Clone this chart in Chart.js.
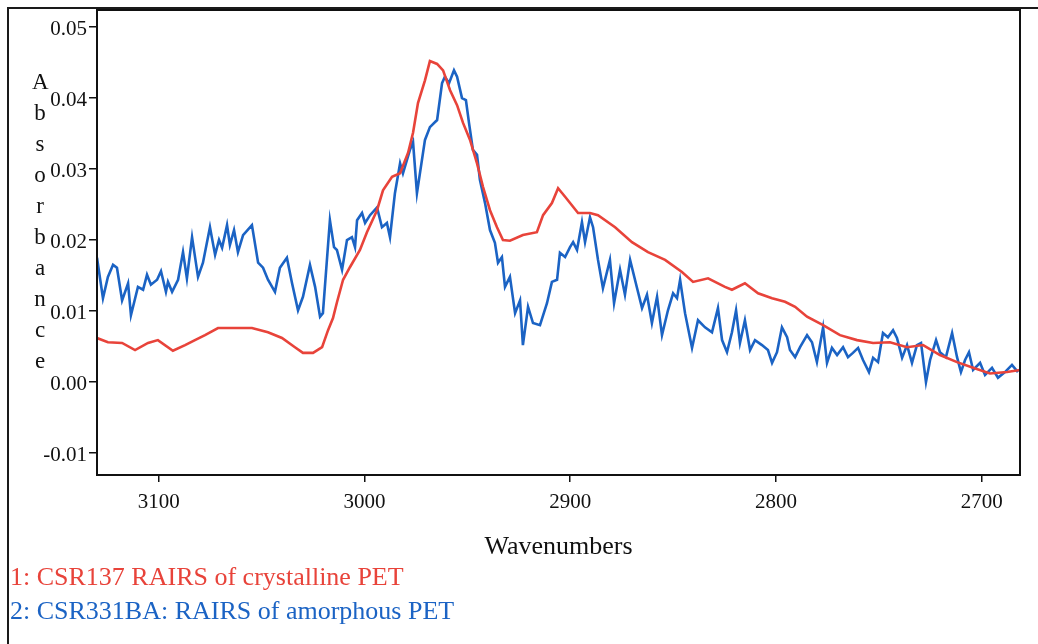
<!DOCTYPE html>
<html>
<head>
<meta charset="utf-8">
<script src="https://cdn.jsdelivr.net/npm/chart.js@4.4.1/dist/chart.umd.min.js"></script>
<style>
html,body{margin:0;padding:0;background:#fff;}
#wrap{position:relative;width:1038px;height:644px;overflow:hidden;background:#fff;}
#frame{position:absolute;left:7px;top:7px;width:1100px;height:700px;border-left:2px solid #1a1a1a;border-top:2px solid #1a1a1a;}
#c{position:absolute;left:0;top:0;}
#ytitle{position:absolute;left:32px;top:66px;width:16px;font-family:"Liberation Serif",serif;font-size:23px;line-height:31px;text-align:center;word-break:break-all;color:#111;}
#legend{position:absolute;left:10px;top:560px;font-family:"Liberation Serif",serif;font-size:26px;line-height:34px;white-space:nowrap;}
</style>
</head>
<body>
<div id="wrap">
  <div id="frame"></div>
  <canvas id="c" width="1038" height="644"></canvas>
  <div id="ytitle">Absorbance</div>
  <div id="legend"></div>
</div>
<script>
// ---- data ----
const seriesLabels = ['1: CSR137 RAIRS of crystalline PET', '2: CSR331BA: RAIRS of amorphous PET'];
const seriesColors = ['#E8433A', '#1B63C4'];

const xTickValues = [3100, 3000, 2900, 2800, 2700];
const yTickValues = [-0.01, 0.00, 0.01, 0.02, 0.03, 0.04, 0.05];
const xRange = [2681.4, 3130];
const yRange = [-0.0131, 0.0524];

const wnCrystalline = [3130.0,3124.7,3117.8,3111.5,3105.2,3100.4,3093.1,3087.2,3082.4,3077.5,3071.2,3062.9,3054.7,3046.9,3040.1,3033.8,3029.9,3025.0,3020.6,3017.7,3015.3,3013.4,3010.4,3007.0,3002.2,2998.8,2993.9,2991.0,2986.6,2982.7,2978.8,2976.4,2974.0,2970.6,2968.2,2964.7,2961.8,2958.4,2955.0,2952.1,2948.7,2945.3,2942.4,2939.0,2935.6,2932.7,2929.3,2923.0,2916.2,2913.2,2908.9,2905.9,2902.5,2896.2,2890.4,2886.5,2878.2,2870.0,2862.2,2853.9,2845.7,2840.3,2833.0,2824.8,2821.4,2815.1,2808.7,2801.9,2795.6,2790.7,2784.9,2777.1,2768.9,2760.6,2752.8,2744.6,2736.3,2728.5,2720.3,2712.0,2704.2,2696.0,2687.7,2681.4];
const absCrystalline = [0.0062,0.0056,0.0055,0.0045,0.0055,0.0059,0.0044,0.0052,0.0059,0.0066,0.0076,0.0076,0.0076,0.0070,0.0062,0.0049,0.0041,0.0041,0.0049,0.0073,0.0090,0.0112,0.0144,0.0162,0.0186,0.0211,0.0242,0.0270,0.0289,0.0294,0.0323,0.0351,0.0393,0.0425,0.0452,0.0448,0.0439,0.0411,0.0390,0.0365,0.0341,0.0308,0.0275,0.0242,0.0218,0.0200,0.0199,0.0207,0.0211,0.0235,0.0252,0.0273,0.0261,0.0238,0.0238,0.0235,0.0218,0.0197,0.0183,0.0172,0.0155,0.0141,0.0146,0.0134,0.0130,0.0139,0.0125,0.0118,0.0113,0.0106,0.0092,0.0080,0.0066,0.0059,0.0055,0.0056,0.0049,0.0052,0.0038,0.0028,0.0020,0.0012,0.0014,0.0017];

const wnAmorphous = [3130.0,3127.1,3124.7,3122.2,3120.3,3117.8,3114.9,3113.5,3110.1,3107.6,3105.7,3103.8,3100.8,3098.9,3096.5,3095.5,3093.5,3090.6,3088.2,3086.3,3083.8,3080.9,3078.5,3075.1,3072.6,3070.7,3069.2,3066.8,3065.4,3063.4,3061.5,3059.0,3054.7,3051.7,3049.3,3046.9,3043.5,3041.1,3037.7,3035.2,3032.3,3029.9,3026.5,3024.0,3021.6,3020.2,3016.8,3014.8,3013.4,3010.9,3008.5,3006.1,3004.6,3003.6,3001.2,2999.7,2997.3,2993.9,2991.5,2989.1,2987.6,2985.2,2982.7,2981.3,2977.9,2976.4,2974.5,2970.6,2968.2,2964.7,2962.3,2960.9,2958.9,2956.5,2955.0,2952.6,2950.7,2949.2,2947.3,2945.3,2943.9,2941.4,2939.0,2936.6,2935.1,2933.2,2931.7,2929.3,2926.8,2924.4,2923.0,2920.5,2918.1,2914.7,2911.3,2908.9,2906.4,2905.0,2902.5,2900.1,2898.6,2896.7,2894.3,2892.8,2890.4,2888.9,2886.5,2884.1,2880.7,2878.7,2875.8,2873.4,2870.9,2867.5,2865.1,2862.7,2860.3,2857.8,2855.4,2852.5,2850.0,2848.1,2846.6,2844.2,2840.8,2837.9,2834.5,2831.1,2828.2,2826.2,2823.8,2821.4,2819.4,2817.5,2815.1,2812.6,2810.2,2806.8,2803.9,2801.9,2799.5,2797.1,2794.6,2793.2,2790.7,2788.3,2784.9,2782.5,2780.1,2777.1,2775.2,2772.8,2770.3,2767.4,2765.0,2762.6,2760.1,2757.7,2754.8,2752.8,2750.4,2748.0,2745.6,2743.1,2741.2,2738.7,2736.3,2733.9,2731.5,2729.5,2727.1,2725.1,2722.2,2720.3,2717.4,2714.4,2712.0,2710.1,2708.1,2706.2,2704.2,2700.8,2698.4,2695.0,2692.1,2688.7,2685.3,2682.4];
const absAmorphous = [0.0175,0.0118,0.0148,0.0165,0.0161,0.0115,0.0139,0.0094,0.0134,0.0130,0.0151,0.0137,0.0144,0.0156,0.0127,0.0141,0.0127,0.0144,0.0183,0.0146,0.0204,0.0148,0.0168,0.0218,0.0179,0.0200,0.0189,0.0221,0.0193,0.0214,0.0183,0.0207,0.0221,0.0168,0.0161,0.0144,0.0127,0.0161,0.0175,0.0139,0.0101,0.0120,0.0165,0.0134,0.0092,0.0097,0.0228,0.0190,0.0186,0.0158,0.0200,0.0204,0.0190,0.0228,0.0238,0.0224,0.0235,0.0246,0.0218,0.0224,0.0204,0.0266,0.0308,0.0294,0.0327,0.0338,0.0266,0.0341,0.0359,0.0369,0.0421,0.0430,0.0421,0.0439,0.0430,0.0400,0.0397,0.0365,0.0327,0.0320,0.0285,0.0252,0.0214,0.0196,0.0168,0.0176,0.0134,0.0148,0.0097,0.0115,0.0052,0.0106,0.0083,0.0080,0.0111,0.0141,0.0144,0.0182,0.0176,0.0190,0.0197,0.0186,0.0225,0.0197,0.0232,0.0218,0.0172,0.0132,0.0172,0.0111,0.0158,0.0123,0.0172,0.0132,0.0104,0.0123,0.0083,0.0120,0.0066,0.0101,0.0125,0.0118,0.0144,0.0097,0.0048,0.0087,0.0077,0.0070,0.0104,0.0059,0.0042,0.0070,0.0101,0.0055,0.0087,0.0045,0.0059,0.0052,0.0045,0.0027,0.0042,0.0077,0.0063,0.0045,0.0035,0.0049,0.0066,0.0056,0.0028,0.0077,0.0027,0.0048,0.0038,0.0049,0.0035,0.0041,0.0048,0.0031,0.0014,0.0034,0.0028,0.0069,0.0063,0.0073,0.0062,0.0034,0.0052,0.0027,0.0052,0.0055,0.0000,0.0031,0.0059,0.0042,0.0035,0.0069,0.0035,0.0014,0.0031,0.0042,0.0017,0.0027,0.0010,0.0020,0.0006,0.0014,0.0024,0.0014];

// ---- chart ----
Chart.defaults.font.family = "'Liberation Serif', 'Times New Roman', serif";
Chart.defaults.color = '#111';

const toPoints = (xs, ys) => xs.map((x, i) => ({x: x, y: ys[i]}));

const framePlugin = {
  id: 'plotFrame',
  afterDatasetsDraw(chart) {
    const {ctx, chartArea: a} = chart;
    ctx.save();
    ctx.strokeStyle = '#111';
    ctx.lineWidth = 2;
    ctx.strokeRect(a.left, a.top, a.right - a.left, a.bottom - a.top);
    ctx.restore();
  }
};

const chart = new Chart(document.getElementById('c'), {
  type: 'line',
  data: {
    datasets: [
      {label: seriesLabels[0], data: toPoints(wnCrystalline, absCrystalline), borderColor: seriesColors[0], borderWidth: 2.6, pointRadius: 0, tension: 0, fill: false},
      {label: seriesLabels[1], data: toPoints(wnAmorphous, absAmorphous), borderColor: seriesColors[1], borderWidth: 2.6, pointRadius: 0, tension: 0, fill: false}
    ]
  },
  options: {
    responsive: false,
    animation: false,
    devicePixelRatio: 1,
    layout: {padding: {left: 0, top: 10, right: 18, bottom: 74}},
    plugins: {legend: {display: false}, tooltip: {enabled: false}},
    scales: {
      x: {
        type: 'linear', reverse: true, min: xRange[0], max: xRange[1],
        afterBuildTicks: s => { s.ticks = xTickValues.map(v => ({value: v})); },
        afterFit: s => { s.height = 95; s.paddingLeft = 0; s.paddingRight = 0; },
        border: {display: false},
        grid: {display: true, drawOnChartArea: false, drawTicks: true, tickLength: 7, color: '#111', lineWidth: 1.5},
        ticks: {font: {size: 21}, color: '#111', padding: 8, maxRotation: 0, autoSkip: false, callback: v => String(v)},
        title: {display: true, text: 'Wavenumbers', font: {size: 26}, color: '#111', padding: {top: 0, bottom: 7}}
      },
      y: {
        type: 'linear', min: yRange[0], max: yRange[1],
        afterBuildTicks: s => { s.ticks = yTickValues.map(v => ({value: v})); },
        afterFit: s => { s.width = 97; s.paddingTop = 0; s.paddingBottom = 0; },
        border: {display: false},
        grid: {display: true, drawOnChartArea: false, drawTicks: true, tickLength: 8, color: '#111', lineWidth: 1.5},
        ticks: {font: {size: 21}, color: '#111', padding: 2, labelOffset: 2, autoSkip: false, callback: v => v.toFixed(2)}
      }
    }
  },
  plugins: [framePlugin]
});

// HTML legend built from the datasets
const legendEl = document.getElementById('legend');
chart.data.datasets.forEach(ds => {
  const d = document.createElement('div');
  d.textContent = ds.label;
  d.style.color = ds.borderColor;
  legendEl.appendChild(d);
});
</script>
</body>
</html>
